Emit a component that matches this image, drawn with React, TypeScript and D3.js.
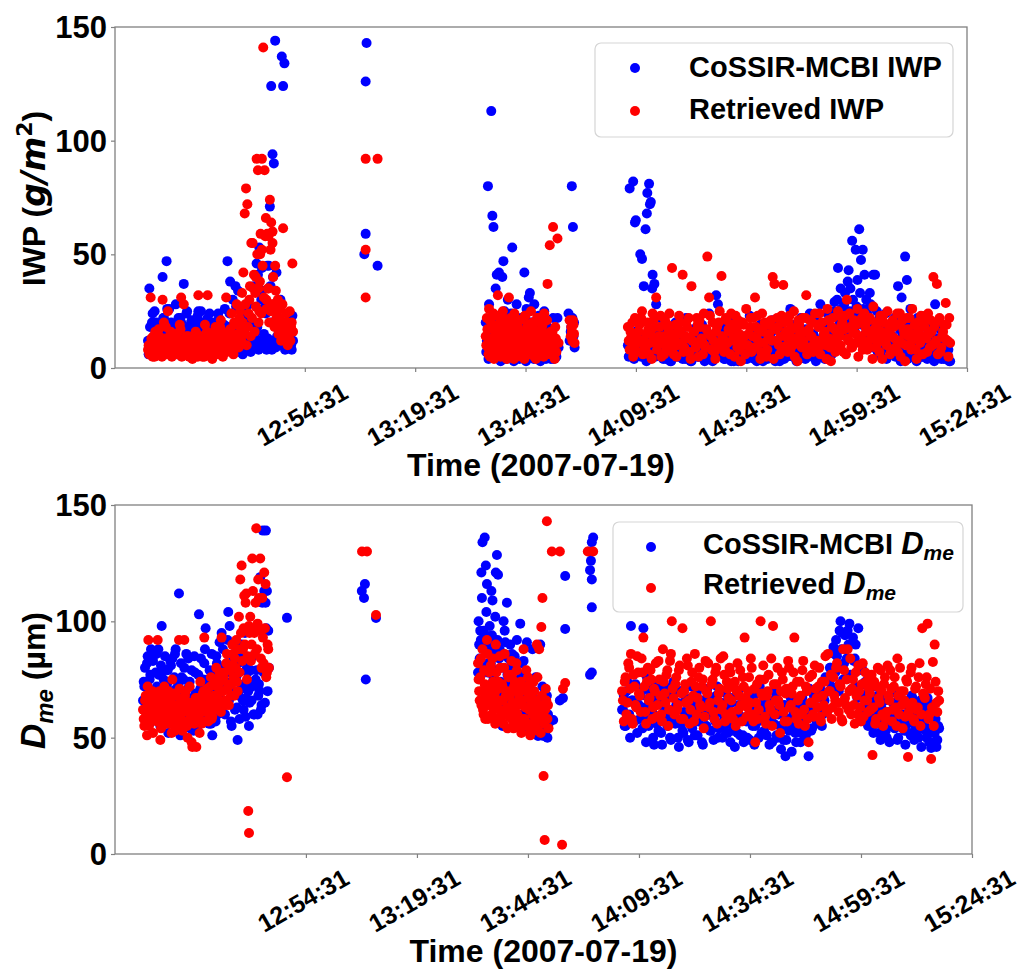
import React, { useEffect, useRef } from "react";
import * as d3 from "d3";

// times are minutes after 12:00:00 UTC on 2007-07-19
const tickTimes = ["12:54:31", "13:19:31", "13:44:31", "14:09:31", "14:34:31", "14:59:31", "15:24:31"];
const yTicks = [0, 50, 100, 150];

// ---------- IWP (g/m2), regular sampling blocks ----------
const iwpA = { start: 19.0, step: 0.3 };
const iwpBlueA = [
  12, 35, 8, 20, 10, 25, 6, 14, 18, 9,
  15, 40, 22, 11, 47, 7, 26, 13, 19, 9,
  17, 28, 12, 22, 8, 20, 15, 37, 10, 24,
  13, 18, 7, 21, 11, 16, 9, 19, 25, 12,
  25, 10, 17, 8, 14, 22, 11, 18, 7, 15,
  20, 9, 13, 24, 16, 10, 19, 12, 26, 14,
  47, 18, 38, 9, 30, 12, 36, 20, 34, 7,
  14, 22, 10, 26, 18, 9, 28, 13, 20, 11,
  36, 16, 46, 41, 53, 9, 34, 26, 11, 24,
  45, 11, 71, 124, 94, 90, 144, 42, 26, 12,
  30, 137, 124, 134, 18, 12, 9, 14, 10, 23,
];
const iwpRedA = [
  8, 6, 31, 10, 14, 5, 12, 9, 17, 7,
  11, 30, 20, 13, 6, 25, 9, 16, 5, 12,
  10, 7, 15, 8, 19, 31, 12, 28, 6, 14,
  9, 5, 13, 8, 11, 6, 16, 9, 32, 7,
  14, 5, 10, 19, 12, 32, 8, 6, 15, 9,
  11, 18, 7, 13, 10, 21, 16, 8, 14, 31,
  12, 9, 17, 24, 13, 20, 11, 28, 15, 22,
  18, 33, 42, 68, 79, 72, 24, 36, 55, 55,
  41, 33, 92, 87, 25, 59, 92, 141, 87, 66,
  59, 35, 74, 64, 60, 28, 45, 22, 30, 19,
  26, 16, 61.5, 17.5, 12, 20, 14, 25, 18, 46,
];
const iwpA2 = { start: 19.15, step: 0.3 };
const iwpBlueA2 = [
  6, 18, 10, 24, 8, 13, 20, 9, 15, 7,
  11, 22, 8, 16, 26, 9, 13, 20, 7, 14,
  10, 19, 6, 15, 22, 12, 8, 17, 11, 25,
  9, 14, 20, 7, 12, 18, 6, 23, 10, 15,
  8, 20, 13, 6, 17, 11, 24, 9, 14, 7,
  12, 18, 8, 22, 10, 15, 6, 19, 11, 16,
  9, 24, 14, 7, 18, 11, 27, 8, 15, 20,
  10, 6, 16, 12, 8, 20, 11, 7, 13, 9,
  14, 10, 18, 8, 12, 30, 9, 15, 11, 8,
  13, 10, 36, 8, 12, 20, 9, 14, 28, 10,
  16, 10, 12, 8, 20, 14, 10, 11, 8, 12,
];
const iwpRedA2 = [
  10, 7, 13, 5, 9, 16, 11, 6, 14, 8,
  5, 12, 9, 18, 7, 10, 14, 6, 11, 15,
  8, 13, 6, 10, 17, 5, 9, 12, 7, 11,
  14, 6, 10, 4, 12, 8, 15, 5, 11, 9,
  7, 13, 5, 10, 16, 6, 9, 12, 4, 11,
  15, 8, 12, 6, 18, 9, 5, 13, 10, 7,
  11, 16, 8, 13, 6, 19, 10, 14, 9, 25,
  12, 20, 15, 28, 10, 18, 30, 14, 22, 35,
  16, 27, 50, 20, 38, 24, 45, 31, 58, 26,
  35, 20, 52, 28, 40, 18, 34, 25, 15, 22,
  12, 28, 20, 15, 24, 10, 17, 12, 20, 16,
];

const iwpB = { start: 95.5, step: 0.25 };
const iwpBlueB = [
  20, 12, 80, 28, 8, 113, 67, 62, 15, 35,
  41, 22, 42, 18, 10, 40, 47, 25, 14, 9,
  30, 16, 11, 24, 53, 7, 20, 13, 28, 6,
  18, 10, 22, 8, 15, 42, 12, 26, 9, 31,
  33, 14, 20, 7, 28, 11, 17, 5, 23, 13,
  19, 8, 15, 25, 10, 6, 18, 12, 9, 4,
  14, 22, 7, 11, 5, 22, 9, null, null, null,
  null, null, null, null, null, 24, 12, 16, 80, 62,
  20,
];
const iwpRedB = [
  14, 22, 9, 26, 5, 18, 11, 24, 7, 16,
  12, 32, 8, 20, 13, 6, 22, 10, 17, 4,
  15, 31, 9, 19, 12, 7, 24, 14, 5, 18,
  10, 21, 8, 16, 13, 4, 23, 11, 19, 6,
  14, 25, 9, 17, 5, 20, 12, 8, 22, 15,
  7, 18, 11, 24, 13, 6, 37, 9, 54, 16,
  14, 62, 10, 18, 7, 57, 11, null, null, null,
  null, null, null, null, null, null, 21, 14, 16, 21,
  15,
];
const iwpB2 = { start: 95.625, step: 0.25 };
const iwpBlueB2 = [
  7, 12, 4, 16, 9, 14, 6, 21, 10, 5,
  13, 8, 18, 3, 11, 6, 15, 9, 4, 12,
  17, 5, 10, 7, 14, 3, 9, 12, 6, 19,
  4, 11, 8, 15, 5, 10, 3, 13, 7, 20,
  9, 6, 14, 4, 11, 8, 16, 5, 10, 3,
  12, 7, 9, 15, 4, 11, 6, 8, 13, 5,
  10, 4, 8, 6, null, null, null, null, null, null,
  null, null, null, null, null, null, null, 18, 22, 14,
  9,
];
const iwpRedB2 = [
  10, 17, 6, 21, 13, 8, 19, 4, 15, 23,
  9, 14, 18, 5, 11, 25, 7, 16, 12, 20,
  6, 13, 22, 9, 17, 4, 11, 19, 14, 8,
  21, 12, 5, 16, 10, 23, 7, 18, 13, 9,
  17, 6, 20, 11, 14, 4, 22, 10, 16, 7,
  12, 19, 5, 15, 9, 21, 8, 13, 6, 11,
  16, 9, 4, 13, null, null, null, null, null, null,
  null, null, null, null, null, null, null, 18, 12, 19,
  11,
];

const iwpC = { start: 127.7, step: 0.4 };
const iwpBlueC = [
  10, 79, 6, 82, 64, 14, 20, 50, 48, 36,
  61, 77, 81, 73, 41, 37, 28, 12, 22, 8,
  4, 15, 9, 18, 3, 11, 7, 20, 5, 13,
  16, 4, 9, 22, 6, 12, 3, 17, 8, 10,
  5, 14, 19, 4, 11, 7, 24, 9, 3, 15,
  32, 28, 6, 12, 18, 4, 10, 21, 7, 13,
  3, 16, 9, 5, 20, 11, 4, 14, 8, 23,
  6, 12, 17, 3, 9, 19, 5, 13, 10, 4,
  15, 8, 21, 11, 6, 18, 3, 12, 9, 16,
  5, 14, 26, 7, 19, 10, 4, 13, 22, 8,
  11, 17, 5, 24, 9, 15, 6, 20, 12, 28,
  7, 18, 14, 24, 10, 22, 16, 29, 12, 44,
  20, 26, 15, 33, 22, 43, 35, 56, 24, 52,
  38.7, 61, 47.5, 52, 41, 30, 22, 33, 18, 41,
  41, 25, 12, 20, 8, 16, 24, 11, 18, 6,
  14, 22, 9, 36, 17, 31, 12, 49, 38.7, 20,
  26, 10, 15, 7, 22, 12, 18, 5, 14, 9,
  20, 11, 16, 8, 28, 13, 6, 17, 10, 4,
  12, 6, 3,
];
const iwpRedC = [
  18, 8, 14, 5, 22, 11, 16, 7, 25, 12,
  9, 20, 6, 15, 24, 13, 31, 10, 18, 5,
  14, 21, 8, 17, 12, 44, 6, 19, 10, 23,
  15, 41, 9, 20, 13, 7, 36, 16, 11, 22,
  5, 18, 12, 24, 9, 49, 31, 14, 20, 7,
  16, 11, 25, 40.5, 13, 8, 21, 17, 6, 19,
  12, 23, 9, 15, 3, 20, 14, 26, 10, 18,
  7, 22, 31, 13, 17, 4, 24, 11, 19, 8,
  15, 21, 40, 37, 12, 18, 6, 23, 36.5, 14,
  10, 20, 8, 17, 25, 13, 3, 19, 11, 22,
  16, 32, 9, 21, 14, 7, 24, 12, 18, 6,
  20, 15, 10, 26, 13, 3, 22, 17, 11, 25,
  14, 19, 7, 23, 30, 12, 18, 9, 21, 15,
  26, 11, 20, 8, 24, 16, 10, 22, 13, 27,
  9, 18, 14, 23, 4, 20, 12, 25, 16, 8,
  21, 13, 19, 7, 24, 11, 17, 3, 22, 14,
  10, 26, 15, 8, 20, 12, 23, 6, 18, 13,
  24, 9, 16, 40, 11, 37, 21, 7, 14, 19,
  28.6, 12, 22,
];
const iwpC2 = { start: 127.9, step: 0.4 };
const iwpBlueC2 = [
  5, 9, 13, 4, 16, 7, 11, 5, 14, 8,
  3, 12, 6, 15, 9, 5, 10, 17, 6, 8,
  13, 4, 7, 11, 3, 16, 9, 6, 12, 5,
  8, 14, 4, 10, 6, 3, 13, 7, 11, 5,
  15, 6, 9, 3, 12, 8, 4, 14, 6, 10,
  5, 11, 7, 16, 4, 9, 6, 13, 3, 8,
  12, 6, 3, 10, 14, 5, 8, 4, 11, 7,
  9, 4, 13, 6, 8, 15, 3, 10, 6, 12,
  5, 16, 7, 3, 11, 6, 9, 13, 4, 8,
  10, 6, 12, 5, 14, 3, 8, 11, 6, 15,
  4, 9, 7, 13, 5, 10, 3, 12, 8, 6,
  14, 4, 11, 8, 18, 6, 25, 12, 30, 22,
  35, 18, 28, 14, 38, 25, 20, 30, 16, 27,
  22, 33, 19, 26, 15, 24, 12, 28, 9, 20,
  14, 7, 22, 5, 11, 16, 4, 9, 13, 6,
  10, 5, 12, 8, 3, 15, 6, 11, 4, 9,
  13, 5, 8, 3, 10, 14, 5, 7, 12, 4,
  9, 6, 11, 3, 8, 13, 5, 4, 10, 7,
  4, 8, 3,
];
const iwpRedC2 = [
  12, 16, 20, 9, 7, 13, 19, 22, 6, 10,
  15, 17, 11, 4, 21, 18, 8, 14, 23, 12,
  6, 10, 19, 24, 15, 9, 13, 5, 17, 20,
  11, 7, 14, 18, 22, 4, 12, 16, 9, 19,
  21, 13, 6, 10, 17, 15, 23, 8, 12, 4,
  18, 20, 9, 14, 7, 22, 11, 16, 24, 13,
  5, 17, 21, 8, 12, 19, 6, 10, 15, 22,
  14, 9, 18, 23, 11, 7, 16, 20, 5, 13,
  19, 12, 4, 17, 22, 10, 14, 8, 20, 16,
  7, 23, 13, 10, 5, 18, 21, 15, 9, 12,
  22, 6, 17, 14, 20, 11, 8, 19, 24, 10,
  13, 16, 4, 21, 9, 18, 12, 7, 15, 23,
  10, 20, 17, 6, 13, 24, 9, 16, 11, 19,
  5, 14, 22, 12, 18, 8, 21, 15, 4, 17,
  20, 11, 7, 16, 23, 13, 10, 19, 6, 14,
  18, 9, 24, 12, 5, 21, 15, 10, 17, 22,
  8, 13, 19, 4, 16, 11, 20, 14, 23, 7,
  15, 21, 10, 18, 12, 6, 22, 9, 16, 13,
  19, 5, 11,
];

// scattered samples [minute, value]
const iwpBlueExtra = [
  [68.5, 143], [68.3, 126], [68.3, 59], [68.0, 50], [71.0, 45],
  [44.8, 44], [46.4, 45], [47.3, 40], [44.6, 33], [45.8, 28], [47.0, 20],
  [132.0, 68], [132.7, 72], [133.2, 35], [129.5, 65],
];
const iwpRedExtra = [
  [68.3, 92], [71.0, 92], [68.3, 52], [68.3, 31],
  [44.8, 52], [44.4, 50], [46.3, 58], [47.2, 55], [43.4, 40], [44.0, 35], [45.8, 30], [46.8, 25],
];

// ---------- Dme (um), regular sampling blocks ----------
const dmeA = { start: 17.83, step: 0.3 };
const dmeBlueA = [
  66, 72, 58, 82, 61, 75, 88, 84, 64, 70,
  86, 60, 77, 55, 98, 68, 79, 63, 73, 52,
  69, 81, 84, 58, 86, 71, 65, 112, 51, 76,
  62, 80, 70, 57, 84, 74, 61, 67, 53, 78,
  64, 53, 103, 71, 59, 75, 82, 97, 62, 68,
  79, 56, 51, 73, 66, 85, 60, 77, 70, 95,
  88, 64, 74, 82, 104, 98, 57, 70, 86, 62,
  76, 49, 68, 84, 90, 66, 73, 59, 80, 70,
  65, 79, 72, 60, 96, 79, 60, 73, 119, 64,
  139, 113, 108, 113, 96,
];
const dmeRedA = [
  62, 55, 68, 51, 92, 64, 58, 70, 66, 60,
  63, 92, 57, 49, 67, 61, 72, 58, 65, 70,
  56, 64, 75, 60, 53, 68, 62, 92, 57, 66,
  61, 92, 70, 55, 63, 72, 59, 46, 64, 58,
  46, 67, 60, 74, 56, 69, 93, 62, 71, 57,
  65, 76, 59, 68, 63, 80, 72, 66, 74, 93,
  70, 78, 64, 86, 73, 81, 68, 90, 76, 84,
  92, 70, 102, 118, 124, 88, 111, 108, 75, 18.5,
  95, 83, 127, 96, 86, 140, 99, 110, 127, 80,
  93, 121, 116, 78, 88,
];
const dmeA2 = { start: 17.98, step: 0.3 };
const dmeBlueA2 = [
  74, 80, 62, 85, 69, 77, 57, 83, 66, 78,
  72, 88, 63, 81, 58, 75, 85, 67, 79, 61,
  83, 70, 57, 76, 88, 64, 73, 59, 82, 68,
  75, 60, 86, 66, 72, 54, 79, 63, 85, 69,
  58, 77, 66, 84, 60, 72, 88, 64, 75, 56,
  70, 86, 62, 78, 57, 82, 67, 91, 63, 74,
  80, 60, 73, 92, 66, 78, 55, 85, 69, 76,
  63, 82, 58, 71, 87, 62, 95, 67, 78, 55,
  72, 66, 85, 60, 75, 98, 68, 70, 62, 108,
  78, 65, 97, 70, 80,
];
const dmeRedA2 = [
  58, 66, 60, 72, 55, 63, 69, 52, 61, 67,
  57, 64, 70, 54, 62, 59, 68, 56, 63, 60,
  66, 52, 61, 69, 58, 64, 55, 71, 60, 53,
  63, 68, 57, 50, 65, 60, 48, 62, 56, 67,
  59, 64, 52, 66, 61, 70, 57, 63, 68, 60,
  72, 58, 66, 62, 75, 64, 69, 78, 61, 70,
  76, 66, 82, 71, 64, 79, 73, 86, 68, 80,
  74, 88, 78, 95, 83, 97, 90, 112, 85, 98,
  102, 90, 113, 95, 108, 88, 118, 96, 84, 110,
  82, 97, 76, 90, 80,
];

const dmeB = { start: 93.28, step: 0.25 };
const dmeBlueB = [
  78, 90, 96, 121, 134, 96, 136, 124, 116, 82,
  70, 88, 113, 109, 76, 92, 121, 128.5, 120, 84,
  74, 66, 55, 100, 96, 71, 108, 62, 80, 90,
  68, 58, 75, 85, 64, 92, 70, 56, 99, 77,
  60, 83, 57.6, 68, 91, 65, 73, 57.6, 62, 88,
  70, 59, 76, 52, 50.7, 66, 90, 61, 72, 50.7,
  64, 55, 68, 60,
];
const dmeRedB = [
  82, 70, 76, 64, 88, 60, 73, 67, 92, 58,
  78, 65, 71, 84, 62, 69, 90, 58, 74, 66,
  80, 61, 72, 56, 86, 68, 63, 77, 59, 70,
  83, 65, 54, 74, 61, 79, 57, 67, 72, 52,
  64, 88, 58, 70, 55, 76, 62, 51, 68, 60,
  74, 57, 66, 90, 53, 88, 62, 97.6, 110, 33.5,
  6, 71, 143, 64,
];
const dmeB2 = { start: 93.4, step: 0.25 };
const dmeBlueB2 = [
  100, 84, 92, 110, 80, 95, 88, 104, 78, 90,
  98, 82, 94, 74, 86, 102, 79, 92, 68, 88,
  80, 62, 86, 73, 91, 66, 77, 84, 60, 72,
  86, 64, 70, 58, 79, 67, 60, 74, 55, 82,
  66, 58, 75, 62, 54, 70, 60, 56, 68, 52,
  64, 58, 53, 60, 55, 62, 51, 57, 54, 60,
  52, 58, 50, 56,
];
const dmeRedB2 = [
  75, 66, 84, 70, 62, 79, 58, 72, 86, 64,
  69, 81, 60, 74, 67, 56, 78, 63, 71, 85,
  59, 73, 66, 80, 62, 70, 54, 76, 68, 61,
  77, 57, 72, 64, 82, 60, 69, 55, 74, 66,
  58, 71, 63, 79, 56, 67, 73, 53, 65, 60,
  70, 55, 62, 76, 58, 64, 52, 68, 60, 56,
  62, 66, 58, 54,
];

const dmeC = { start: 125.71, step: 0.4 };
const dmeBlueC = [
  62, 68, 55, 74, 60, 98, 66, 57, 72, 64,
  58, 70, 97, 63, 76, 55, 68, 61, 47, 73,
  59, 66, 52, 71, 63, 57, 68, 50, 62, 74,
  56, 65, 46, 70, 53, 61, 67, 49, 58, 72,
  64, 51, 69, 57, 62, 48, 66, 55, 71, 60,
  53, 63, 58, 68, 50, 61, 65, 54, 70, 57,
  62, 48, 67, 56, 60, 52, 64, 59, 51, 66,
  57, 63, 49, 61, 68, 55, 60, 50, 64, 58,
  53, 66, 59, 47, 62, 56, 70, 51, 60, 55,
  64, 49, 42, 58, 53, 67, 55, 60, 48, 63,
  57, 52, 65, 50, 59, 42, 61, 54, 68, 58,
  63, 56, 70, 60, 66, 75, 62, 80, 72, 89,
  78, 85, 70, 100, 95, 82, 88, 96, 99, 76,
  93, 84, 72, 97, 68, 80, 62, 74, 58, 70,
  65, 55, 72, 60, 68, 52, 63, 57, 66, 50,
  61, 55, 70, 58, 64, 49, 67, 56, 60, 53,
  65, 58, 52, 68, 60, 55, 63, 50, 66, 57,
  62, 53, 67, 48, 45.6, 59, 52, 46, 55,
];
const dmeRedC = [
  70, 57, 76, 65, 80, 86, 56, 72, 63, 78,
  68, 84, 93, 61, 74, 66, 79, 58, 71, 82,
  64, 75, 60, 88, 69, 77, 55, 83, 100, 67,
  73, 62, 79, 58, 97, 70, 65, 81, 56, 74,
  68, 86, 60, 76, 64, 72, 54, 83, 69, 63,
  100, 75, 58, 80, 66, 71, 62, 85, 57, 74,
  67, 78, 61, 72, 55, 82, 68, 64, 76, 93,
  59, 70, 65, 80, 57, 48, 73, 62, 100, 68,
  75, 56, 70, 64, 84, 98, 60, 73, 66, 52,
  78, 61, 69, 57, 80, 64, 72, 93, 58, 66,
  74, 60, 83, 55, 70, 48, 65, 77, 59, 71,
  63, 80, 57, 68, 74, 62, 86, 70, 58, 76,
  66, 82, 61, 72, 57, 79, 64, 88, 70, 60,
  75, 56, 68, 81, 63, 73, 59, 78, 66, 71,
  62, 42.5, 74, 58, 80, 65, 70, 55, 76, 61,
  68, 79, 57, 72, 63, 84, 60, 70, 54, 66,
  75, 41.7, 64, 80, 58, 71, 62, 76, 55, 97,
  68, 73, 99, 60, 40.8, 82.5, 90, 65, 70,
];
const dmeC2 = { start: 125.91, step: 0.4 };
const dmeBlueC2 = [
  62, 55, 70, 59, 50, 66, 57, 73, 52, 64,
  68, 54, 60, 48, 71, 58, 63, 50, 67, 56,
  53, 65, 47, 61, 72, 55, 59, 49, 69, 57,
  64, 50, 70, 56, 52, 66, 60, 48, 73, 54,
  58, 68, 51, 62, 66, 47, 71, 55, 60, 53,
  67, 49, 57, 72, 54, 63, 50, 59, 69, 52,
  56, 65, 53, 46, 61, 70, 51, 58, 48, 66,
  50, 60, 68, 55, 47, 64, 57, 72, 52, 62,
  69, 51, 58, 65, 48, 56, 67, 50, 63, 45,
  54, 64, 49, 58, 70, 44, 60, 52, 66, 55,
  48, 67, 56, 51, 62, 71, 53, 59, 68, 57,
  63, 72, 55, 68, 76, 62, 74, 80, 70, 86,
  92, 80, 96, 88, 75, 94, 84, 90, 77, 71,
  83, 90, 67, 79, 60, 73, 57, 68, 55, 64,
  60, 52, 66, 56, 63, 49, 59, 68, 53, 61,
  48, 57, 65, 54, 69, 50, 60, 55, 66, 47,
  56, 63, 51, 67, 49, 59, 53, 62, 46, 65,
  55, 50, 60, 48, 64, 52, 58, 49, 54,
];
const dmeRedC2 = [
  66, 74, 60, 82, 71, 58, 77, 64, 85, 69,
  61, 78, 72, 56, 80, 67, 75, 63, 70, 59,
  83, 68, 57, 74, 65, 79, 62, 86, 71, 60,
  76, 64, 81, 69, 58, 73, 84, 66, 62, 78,
  57, 72, 67, 80, 63, 75, 59, 70, 82, 65,
  73, 61, 78, 56, 69, 84, 64, 77, 60, 71,
  80, 66, 58, 74, 70, 62, 79, 57, 72, 67,
  63, 76, 84, 60, 71, 65, 58, 75, 69, 81,
  59, 68, 77, 62, 55, 73, 66, 80, 64, 70,
  75, 57, 71, 83, 63, 69, 78, 61, 74, 56,
  68, 79, 62, 72, 58, 76, 65, 60, 81, 67,
  72, 59, 74, 64, 85, 61, 70, 77, 63, 68,
  80, 65, 73, 58, 88, 67, 75, 62, 84, 71,
  64, 78, 60, 70, 57, 82, 66, 74, 61, 69,
  77, 63, 56, 72, 67, 79, 60, 73, 58, 81,
  66, 71, 62, 76, 55, 68, 80, 64, 70, 59,
  74, 61, 78, 65, 57, 72, 63, 82, 60, 69,
  67, 76, 58, 71, 63, 55, 74, 61, 66,
];

const dmeBlueExtra = [
  [45.5, 139], [50.25, 101.5],
  [67.8, 116], [67.1, 113], [67.6, 110], [70.3, 101.4], [68.0, 75],
  [110.2, 57.6], [111.7, 66], [112.4, 67], [112.9, 119.5], [112.9, 96.7],
  [118.9, 134], [119.2, 136], [118.3, 130], [118.7, 126], [118.5, 122], [118.9, 118],
  [118.9, 106], [118.5, 77], [118.9, 78],
];
const dmeRedExtra = [
  [41.7, 9], [50.25, 33],
  [67.15, 130], [68.27, 130], [70.3, 102.7],
  [109.9, 130], [111.7, 130], [112.2, 4], [112.4, 71], [112.9, 73.5],
  [118.0, 130], [119.2, 130],
];

const BLUE = "#0000ff";
const RED = "#ff0000";
const FONT = "'Liberation Sans', Arial, Helvetica, sans-serif";

const toDate = (m: number) => new Date(2007, 6, 19, 12, 0, 0, Math.round(m * 60000));
const parseClock = (s: string) => {
  const [h, mi, se] = s.split(":").map(Number);
  return new Date(2007, 6, 19, h, mi, se);
};

const block = (g: { start: number; step: number }, vals: (number | null)[]) =>
  vals
    .map((v, i) => ({ t: toDate(g.start + g.step * i), v }))
    .filter((d) => d.v !== null) as { t: Date; v: number }[];

const extra = (arr: number[][]) => arr.map(([m, v]) => ({ t: toDate(m), v }));

const App = () => {
  const svgRef = useRef<SVGSVGElement>(null);

  useEffect(() => {
    const svg = d3.select(svgRef.current);
    svg.selectAll("*").remove();

    const domain = [toDate(11.52), parseClock("15:24:31")];

    const drawPanel = (cfg: any) => {
      const { left, right, top, bottom, blue, red } = cfg;
      const x = d3.scaleTime().domain(domain).range([left, right]);
      const y = d3.scaleLinear().domain([0, 150]).range([bottom, top]);
      const g = svg.append("g");

      // points: blue first, red on top
      g.append("g")
        .selectAll("circle")
        .data(blue)
        .join("circle")
        .attr("cx", (d: any) => x(d.t))
        .attr("cy", (d: any) => y(d.v))
        .attr("r", 5)
        .attr("fill", BLUE);
      g.append("g")
        .selectAll("circle")
        .data(red)
        .join("circle")
        .attr("cx", (d: any) => x(d.t))
        .attr("cy", (d: any) => y(d.v))
        .attr("r", 5)
        .attr("fill", RED);

      // frame
      g.append("rect")
        .attr("x", left)
        .attr("y", top)
        .attr("width", right - left)
        .attr("height", bottom - top)
        .attr("fill", "none")
        .attr("stroke", "#808080")
        .attr("stroke-width", 1.3);

      // x axis
      const xa = d3.axisBottom(x)
        .tickValues(tickTimes.map(parseClock))
        .tickSize(4)
        .tickFormat(() => "");
      const xg = g.append("g").attr("transform", `translate(0,${bottom})`).call(xa);
      xg.select(".domain").remove();
      xg.selectAll("line").attr("stroke", "#808080").attr("stroke-width", 1.2);

      g.append("g")
        .selectAll("text")
        .data(tickTimes)
        .join("text")
        .attr("transform", (d) => `translate(${x(parseClock(d)) + 45},${bottom + 29}) rotate(-30)`)
        .attr("text-anchor", "end")
        .attr("font-family", FONT)
        .attr("font-weight", "bold")
        .attr("font-size", 25)
        .text((d) => d);

      // y axis
      const ya = d3.axisLeft(y).tickValues(yTicks).tickSize(4).tickFormat(() => "");
      const yg = g.append("g").attr("transform", `translate(${left},0)`).call(ya);
      yg.select(".domain").remove();
      yg.selectAll("line").attr("stroke", "#808080").attr("stroke-width", 1.2);

      g.append("g")
        .selectAll("text")
        .data(yTicks)
        .join("text")
        .attr("x", left - 8)
        .attr("y", (d) => y(d) + 11)
        .attr("text-anchor", "end")
        .attr("font-family", FONT)
        .attr("font-weight", "bold")
        .attr("font-size", 31)
        .text((d) => d);

      // x title
      g.append("text")
        .attr("x", (left + right) / 2)
        .attr("y", bottom + 108)
        .attr("text-anchor", "middle")
        .attr("font-family", FONT)
        .attr("font-weight", "bold")
        .attr("font-size", 32)
        .text("Time (2007-07-19)");

      // y title
      const yt = g.append("text")
        .attr("transform", `translate(45,${(top + bottom) / 2 + 1}) rotate(-90)`)
        .attr("text-anchor", "middle")
        .attr("font-family", FONT)
        .attr("font-weight", "bold")
        .attr("font-size", 32);
      cfg.yTitle(yt);

      // legend
      const L = cfg.legend;
      g.append("rect")
        .attr("x", L.x)
        .attr("y", L.y)
        .attr("width", L.w)
        .attr("height", L.h)
        .attr("rx", 6)
        .attr("fill", "white")
        .attr("fill-opacity", 0.8)
        .attr("stroke", "#d5d5d5")
        .attr("stroke-width", 1.2);
      L.items.forEach((it: any, i: number) => {
        g.append("circle")
          .attr("cx", L.mx)
          .attr("cy", L.my[i])
          .attr("r", 5)
          .attr("fill", it.color);
        const t = g.append("text")
          .attr("x", L.tx)
          .attr("y", L.ty[i])
          .attr("font-family", FONT)
          .attr("font-weight", "bold")
          .attr("font-size", 29);
        it.render(t);
      });
    };

    const dmeLabel = (t: any, pre: string, size: number, sub: number, drop: number) => {
      t.append("tspan").text(pre);
      t.append("tspan").attr("font-style", "italic").attr("font-size", size).text("D");
      t.append("tspan").attr("font-style", "italic").attr("font-size", sub).attr("dy", drop).text("me");
    };

    drawPanel({
      left: 115, right: 967, top: 27, bottom: 368,
      blue: [
        ...block(iwpA, iwpBlueA), ...block(iwpA2, iwpBlueA2),
        ...block(iwpB, iwpBlueB), ...block(iwpB2, iwpBlueB2),
        ...block(iwpC, iwpBlueC), ...block(iwpC2, iwpBlueC2),
        ...extra(iwpBlueExtra),
      ],
      red: [
        ...block(iwpA, iwpRedA), ...block(iwpA2, iwpRedA2),
        ...block(iwpB, iwpRedB), ...block(iwpB2, iwpRedB2),
        ...block(iwpC, iwpRedC), ...block(iwpC2, iwpRedC2),
        ...extra(iwpRedExtra),
      ],
      yTitle: (t: any) => {
        t.append("tspan").text("IWP (");
        t.append("tspan")
          .attr("font-family", "'DejaVu Sans', sans-serif")
          .attr("font-style", "italic")
          .attr("font-size", 33)
          .text("g/m");
        t.append("tspan")
          .attr("font-family", "'DejaVu Sans', sans-serif")
          .attr("font-size", 22)
          .attr("dy", -13)
          .text("2");
        t.append("tspan").attr("dy", 13).text(")");
      },
      legend: {
        x: 595, y: 43, w: 358, h: 94, mx: 635, my: [68, 111], tx: 689, ty: [77, 119],
        items: [
          { color: BLUE, render: (t: any) => t.text("CoSSIR-MCBI IWP") },
          { color: RED, render: (t: any) => t.text("Retrieved IWP") },
        ],
      },
    });

    drawPanel({
      left: 115, right: 972, top: 505, bottom: 854,
      blue: [
        ...block(dmeA, dmeBlueA), ...block(dmeA2, dmeBlueA2),
        ...block(dmeB, dmeBlueB), ...block(dmeB2, dmeBlueB2),
        ...block(dmeC, dmeBlueC), ...block(dmeC2, dmeBlueC2),
        ...extra(dmeBlueExtra),
      ],
      red: [
        ...block(dmeA, dmeRedA), ...block(dmeA2, dmeRedA2),
        ...block(dmeB, dmeRedB), ...block(dmeB2, dmeRedB2),
        ...block(dmeC, dmeRedC), ...block(dmeC2, dmeRedC2),
        ...extra(dmeRedExtra),
      ],
      yTitle: (t: any) => {
        t.append("tspan").attr("font-style", "italic").attr("font-size", 35).text("D");
        t.append("tspan").attr("font-style", "italic").attr("font-size", 24).attr("dy", 8).text("me");
        t.append("tspan").attr("dy", -8).text(" (µm)");
      },
      legend: {
        x: 613, y: 522, w: 350, h: 90, mx: 651, my: [547, 588], tx: 703, ty: [554, 594],
        items: [
          { color: BLUE, render: (t: any) => dmeLabel(t, "CoSSIR-MCBI ", 31, 21, 6) },
          { color: RED, render: (t: any) => dmeLabel(t, "Retrieved ", 31, 21, 6) },
        ],
      },
    });
  }, []);

  return (
    <svg
      ref={svgRef}
      width={1021}
      height={976}
      style={{ position: "absolute", left: 0, top: 0, background: "white" }}
    />
  );
};

export default App;
